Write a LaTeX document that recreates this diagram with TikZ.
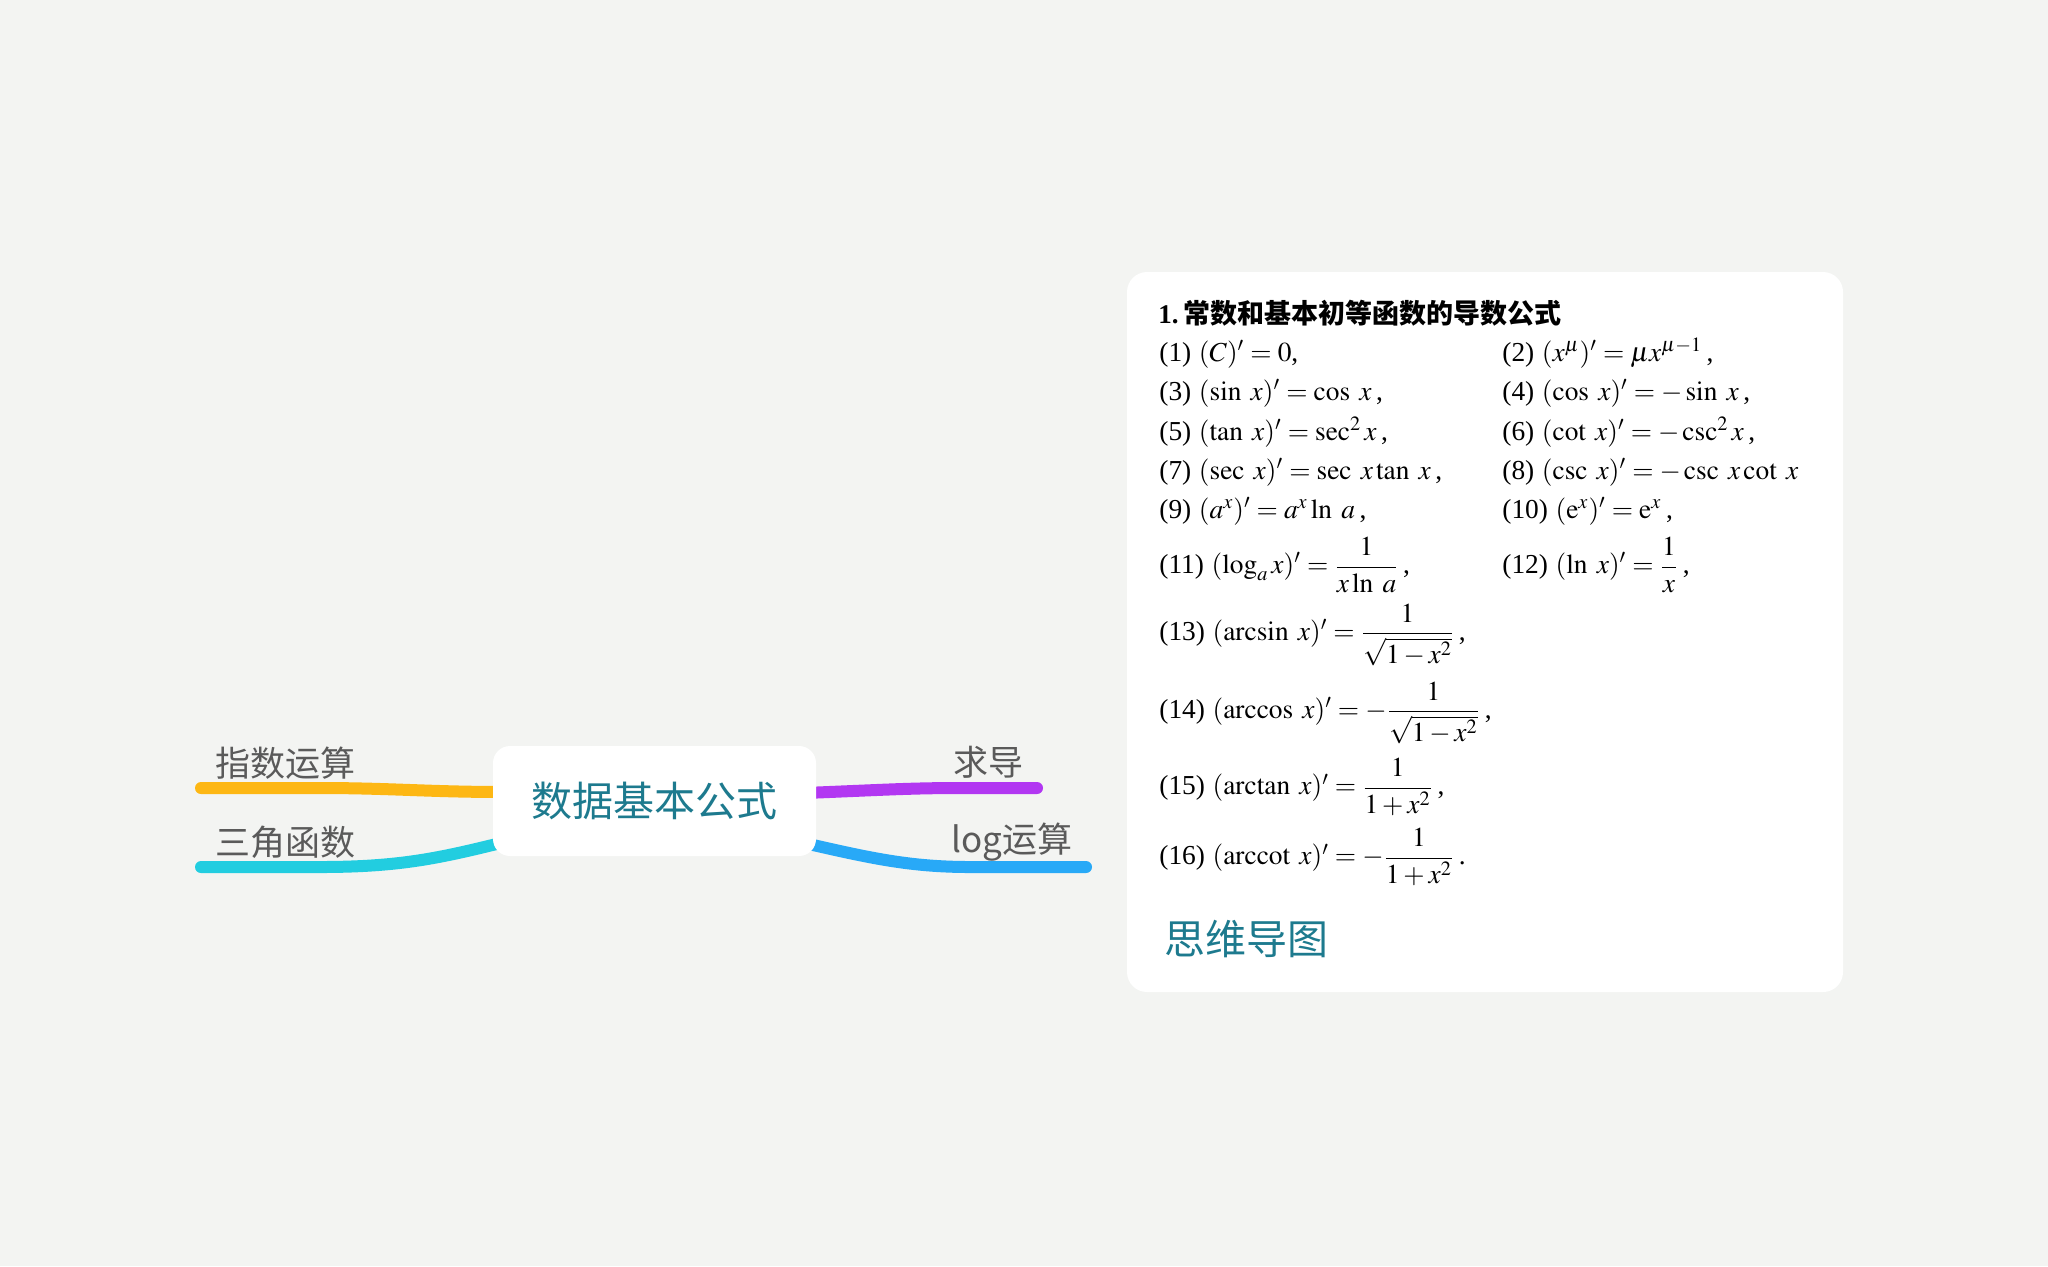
\documentclass[tikz,border=0pt]{standalone}
\usepackage{amsmath}
\usepackage{mathptmx}
\usepackage{fontspec}
\setmainfont{Liberation Serif}
\newfontfamily\cjk{Noto Sans CJK SC}
\usepackage{xcolor}
\usetikzlibrary{positioning, backgrounds}

\definecolor{pageGray}{HTML}{F3F4F2}
\definecolor{topicTeal}{HTML}{1D7A8E}
\definecolor{labelGray}{HTML}{5A5A5A}
\definecolor{brYellow}{HTML}{FDB714}
\definecolor{brCyan}{HTML}{22CDE0}
\definecolor{brPurple}{HTML}{B237F2}
\definecolor{brBlue}{HTML}{28A9F7}

\begin{document}
\begin{tikzpicture}[
    x=0.5pt, y=-0.5pt,
    topic/.style={fill=white, rounded corners=8.5pt,
                  minimum width=161.5pt, minimum height=55pt,
                  font=\cjk\fontsize{20.5}{24}\selectfont, text=topicTeal},
    sublabel/.style={font=\cjk\fontsize{17.5}{21}\selectfont, text=labelGray, inner sep=0pt},
    branch/.style={line width=6pt, line cap=round},
    card/.style={fill=white, rounded corners=10pt, minimum width=358pt,
                 minimum height=360pt, inner sep=0pt},
    formula/.style={anchor=base west, inner sep=0pt, font=\fontsize{13.7}{15}\selectfont},
    fracrow/.style={anchor=west, inner sep=0pt, font=\fontsize{13.7}{15}\selectfont}
]
\useasboundingbox (0,0) rectangle (2048,1266);

% Nodes
\node[topic] (central) at (654.5,801) {数据基本公式};
\node[sublabel] (expo) at (285,763) {指数运算};
\node[sublabel] (trig) at (285,842) {三角函数};
\node[sublabel] (deriv) at (988,762) {求导};
\node[sublabel] (logs) at (1012,842) {log运算};
\coordinate (expend) at (201,788);
\coordinate (trigend) at (201,867);
\coordinate (derivend) at (1037,788);
\coordinate (logend) at (1086,867);

% Formula card
\node[card] (card) at (1485,632) {};
\node[formula, font=\bfseries\fontsize{13.5}{15}\selectfont] (title) at (1158,323)
    {1.\,{\cjk\bfseries 常数和基本初等函数的导数公式}};
\node[formula] (f1) at (1159,361) {(1)\;$(C)'=0$,};
\node[formula] (f2) at (1502,361) {(2)\;$(x^{\mu})'=\mu x^{\mu-1}$\,,};
\node[formula] (f3) at (1159,400) {(3)\;$(\sin\;x)'=\cos\;x$\,,};
\node[formula] (f4) at (1502,400) {(4)\;$(\cos\;x)'=-\sin\;x$\,,};
\node[formula] (f5) at (1159,440) {(5)\;$(\tan\;x)'=\sec^2 x$\,,};
\node[formula] (f6) at (1502,440) {(6)\;$(\cot\;x)'=-\csc^2 x$\,,};
\node[formula] (f7) at (1159,479) {(7)\;$(\sec\;x)'=\sec\;x\tan\;x$\,,};
\node[formula] (f8) at (1502,479) {(8)\;$(\csc\;x)'=-\csc\;x\cot\;x$};
\node[formula] (f9) at (1159,518) {(9)\;$(a^x)'=a^x\ln\;a$\,,};
\node[formula] (f10) at (1502,518) {(10)\;$(\mathrm{e}^x)'=\mathrm{e}^x$\,,};
\node[fracrow] (f11) at (1159,565) {(11)\;$(\log_a x)'=\dfrac{1}{x\ln\;a}$\,,};
\node[fracrow] (f12) at (1502,565) {(12)\;$(\ln\;x)'=\dfrac{1}{x}$\,,};
\node[fracrow] (f13) at (1159,635) {(13)\;$(\arcsin\;x)'=\dfrac{1}{\sqrt{1-x^2}}$\,,};
\node[fracrow] (f14) at (1159,713) {(14)\;$(\arccos\;x)'=-\dfrac{1}{\sqrt{1-x^2}}$\,,};
\node[fracrow] (f15) at (1159,787) {(15)\;$(\arctan\;x)'=\dfrac{1}{1+x^2}$\,,};
\node[fracrow] (f16) at (1159,857) {(16)\;$(\operatorname{arccot}\;x)'=-\dfrac{1}{1+x^2}$\,.};
\node[font=\cjk\fontsize{20.5}{24}\selectfont, text=topicTeal] (mm) at (1246,939) {思维导图};

% Branches
\begin{pgfonlayer}{background}
\fill[pageGray] (0,0) rectangle (2048,1266);
\draw[branch, brYellow] ([xshift=6pt,yshift=4.5pt]central.west)
    .. controls (430,792) and (390,788) .. (320,788) -- (expend);
\draw[branch, brCyan] ([xshift=6pt,yshift=-20.5pt]central.west)
    .. controls (440,858) and (400,867) .. (320,867) -- (trigend);
\draw[branch, brPurple] ([xshift=-6pt,yshift=4pt]central.east)
    .. controls (880,790) and (910,788) .. (960,788) -- (derivend);
\draw[branch, brBlue] ([xshift=-6pt,yshift=-21pt]central.east)
    .. controls (870,858) and (910,867) .. (970,867) -- (logend);
\end{pgfonlayer}

\end{tikzpicture}
\end{document}
